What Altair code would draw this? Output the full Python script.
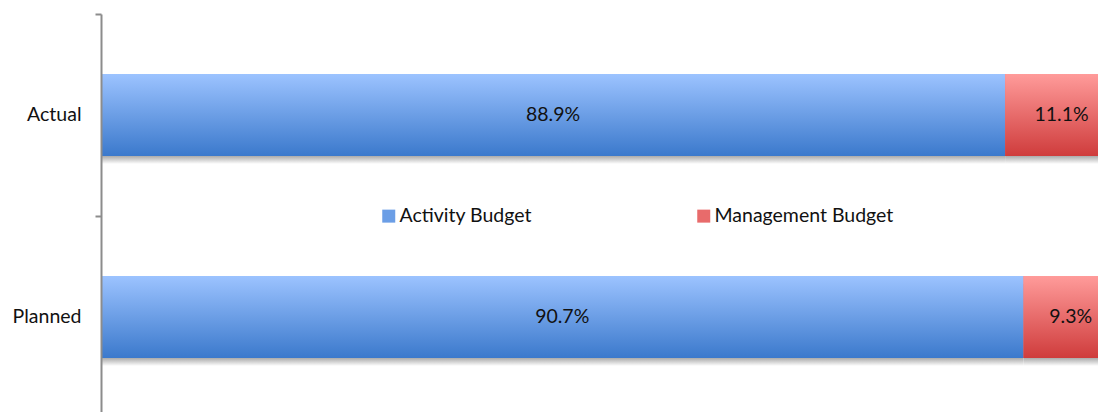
import altair as alt
import pandas as pd

categories = ["Actual", "Planned"]
series = ["Activity Budget", "Management Budget"]
activity = [88.9, 90.7]
management = [11.1, 9.3]

rows = []
for i, c in enumerate(categories):
    for j, (s, v) in enumerate(zip(series, [activity[i], management[i]])):
        rows.append({"category": c, "series": s, "value": v, "ord": j,
                     "label": f"{v:.1f}%"})
df = pd.DataFrame(rows)

FONT = "Lato"
FS = 19.5
PLOT_W = 997
XMAX = 100 * PLOT_W / 1017

blue_grad = alt.LinearGradient(
    gradient="linear", x1=0, x2=0, y1=0, y2=1,
    stops=[alt.GradientStop(color="#9cc3ff", offset=0),
           alt.GradientStop(color="#3b79cc", offset=1)])
red_grad = alt.LinearGradient(
    gradient="linear", x1=0, x2=0, y1=0, y2=1,
    stops=[alt.GradientStop(color="#ff9b9a", offset=0),
           alt.GradientStop(color="#cf3c3c", offset=1)])
shadow_grad = alt.LinearGradient(
    gradient="linear", x1=0, x2=0, y1=0, y2=1,
    stops=[alt.GradientStop(color="#a8a8a8", offset=0),
           alt.GradientStop(color="#a8a8a8", offset=0.9),
           alt.GradientStop(color="#ffffff", offset=1)])

base = alt.Chart(df).transform_stack(
    stack="value", groupby=["category"], as_=["x0", "x1"],
    sort=[alt.SortField("ord", order="ascending")]
).encode(
    y=alt.Y("category:N", sort=categories, title=None,
            scale=alt.Scale(paddingInner=0, paddingOuter=0),
            axis=alt.Axis(bandPosition=0, domainColor="#8c8c8c", zindex=1,
                          domainWidth=2, tickColor="#8c8c8c", tickWidth=2, tickSize=6,
                          labelPadding=14, labelFont=FONT, labelFontSize=FS,
                          labelColor="#111111")),
    x=alt.X("x0:Q", title=None, axis=None,
            scale=alt.Scale(domain=[0, XMAX], nice=False, zero=True)),
    x2="x1:Q",
)

shadow = base.mark_bar(size=82, yOffset=8, clip=True, fill=shadow_grad, strokeWidth=0)

legend_layer = base.mark_bar(size=82, clip=True).encode(
    color=alt.Color("series:N", sort=series,
                    scale=alt.Scale(domain=series, range=["#6b9ee6", "#e86b6b"]),
                    legend=alt.Legend(orient="none", legendX=278, legendY=192,
                                      direction="horizontal", title=None,
                                      symbolType="square", symbolSize=169,
                                      symbolStrokeWidth=0, labelFont=FONT,
                                      labelFontSize=FS, labelColor="#111111",
                                      labelOffset=1, columnPadding=162,
                                      labelLimit=400))
)

bars = base.mark_bar(size=82, clip=True, strokeWidth=0).encode(
    fill=alt.condition("datum.series === 'Activity Budget'",
                       alt.value(blue_grad), alt.value(red_grad))
)

text = base.transform_calculate(mid="(datum.x0 + datum.x1) / 2").mark_text(
    font=FONT, fontSize=FS, color="#111111", clip=True
).encode(x=alt.X("mid:Q"), x2=alt.X2("mid:Q"), text="label:N")

chart = alt.layer(shadow, legend_layer, bars, text).properties(
    width=PLOT_W, height=404,
    padding={"left": 93, "top": 6, "right": 0, "bottom": 0},
    autosize=alt.AutoSizeParams(type="none"),
).configure_view(stroke=None)

chart.save("out.html", embed_options={"renderer": "svg", "actions": False})
